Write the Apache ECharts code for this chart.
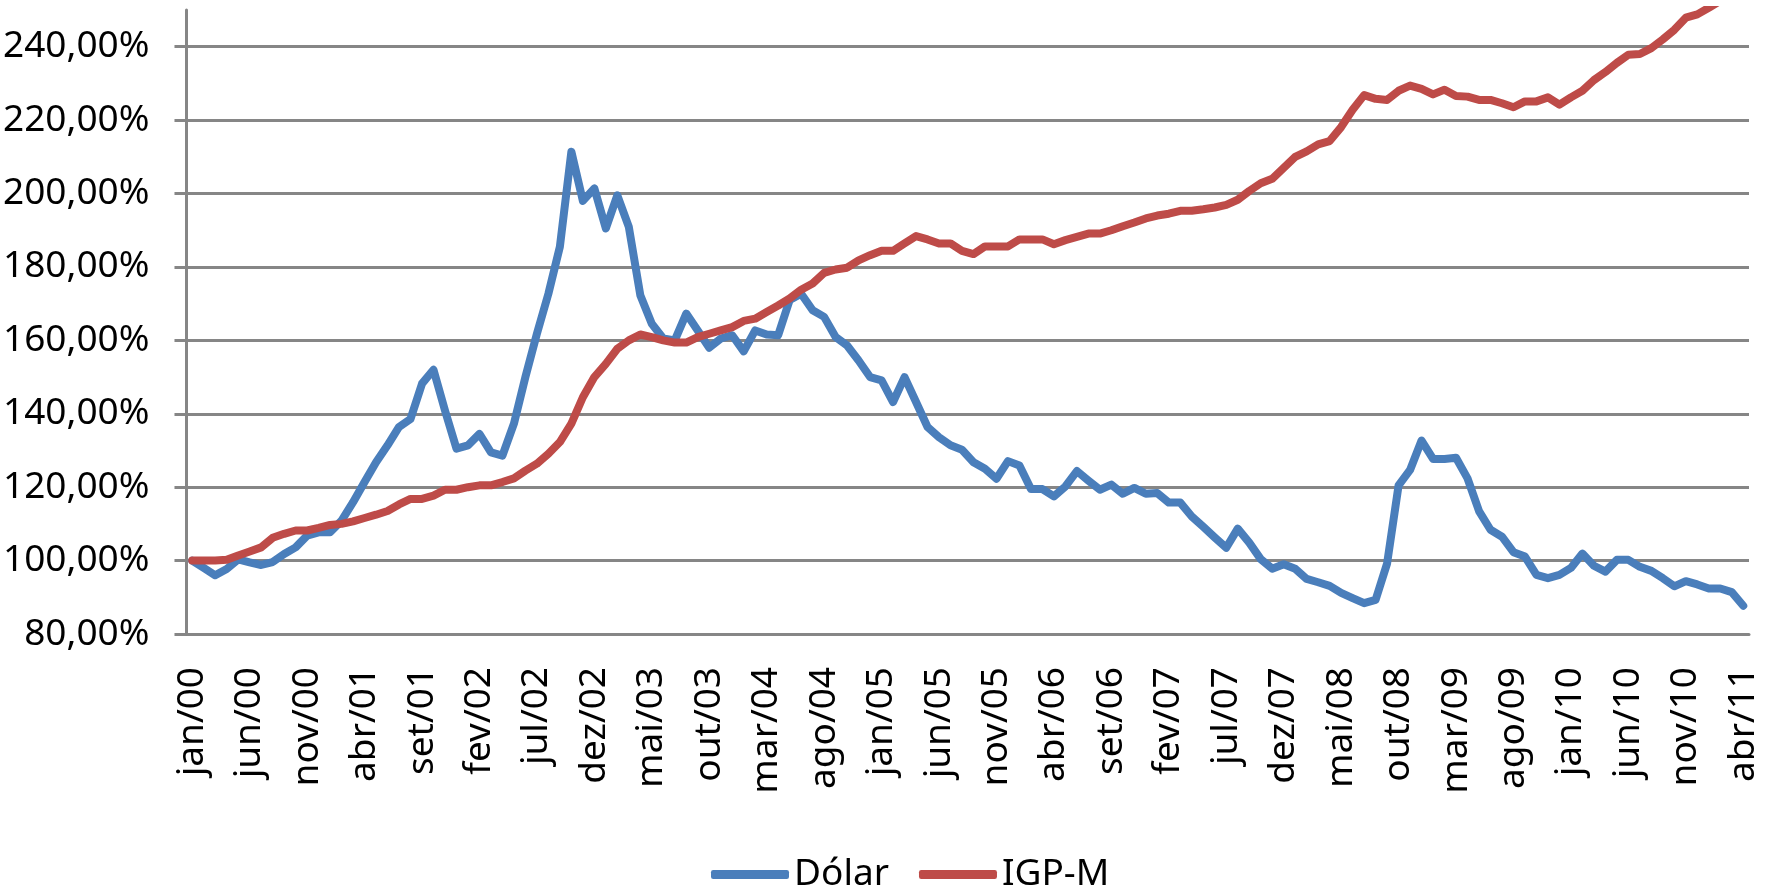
<!DOCTYPE html>
<html>
<head>
<meta charset="utf-8">
<title>Dólar x IGP-M</title>
<script src="https://cdn.jsdelivr.net/npm/echarts@6/dist/echarts.min.js"></script>
<style>
    html, body {
        margin: 0;
        padding: 0;
        background: #fff;
    }
    .mycharts {
        width: 1773px;
        height: 893px;
    }
</style>
</head>
<body>
<div class="mycharts" id="myChart"></div>
<script>
// meses e anos do eixo x (jan/00 ... abr/11)
const meses = ["jan", "fev", "mar", "abr", "mai", "jun", "jul", "ago", "set", "out", "nov", "dez"];
const anos = ["00", "01", "02", "03", "04", "05", "06", "07", "08", "09", "10", "11"];
const numMeses = 136;

// valores em %, base jan/00 = 100
const dolar = [
    100, 98, 96, 97.7, 100.3, 99.5, 98.8, 99.6, 101.8, 103.6,
    106.8, 107.7, 107.7, 110.9, 115.9, 121.4, 126.8, 131.4, 136.4, 138.6,
    148.2, 152, 140.9, 130.5, 131.4, 134.5, 129.5, 128.6, 137.3, 150,
    161.8, 172.7, 185.5, 211.4, 198, 201.4, 190.5, 199.5, 190.9, 172.3,
    164.5, 160.5, 160, 167.3, 162.7, 158, 160.5, 161.4, 157, 162.7,
    161.6, 161.4, 171, 172.7, 168.2, 166.4, 160.9, 158.6, 154.5, 150,
    149.1, 143.2, 150, 143.2, 136.4, 133.6, 131.4, 130.2, 126.8, 125,
    122.3, 127.1, 125.9, 119.5, 119.5, 117.5, 120.2, 124.4, 121.8, 119.3,
    120.7, 118.2, 119.8, 118.2, 118.4, 115.8, 115.8, 112, 109.2, 106.3,
    103.5, 108.7, 104.9, 100.4, 97.8, 99, 97.8, 95, 94.1, 93.1,
    91.2, 89.8, 88.4, 89.3, 99.2, 120.5, 124.7, 132.7, 127.7, 127.7,
    128, 122.4, 113.5, 108.4, 106.5, 102.3, 101.1, 96.1, 95.2, 96.1,
    98, 101.9, 98.6, 97, 100.2, 100.2, 98.3, 97.2, 95.2, 93,
    94.4, 93.5, 92.4, 92.4, 91.4, 87.7
];
const igpm = [
    100, 100, 100, 100.2, 101.4, 102.5, 103.6, 106.2, 107.3, 108.2,
    108.2, 108.9, 109.7, 110, 110.7, 111.6, 112.5, 113.5, 115.3, 116.8,
    116.8, 117.7, 119.3, 119.3, 120, 120.5, 120.5, 121.4, 122.4, 124.5,
    126.4, 129.1, 132.3, 137.3, 144.5, 150, 153.6, 157.7, 160, 161.6,
    160.9, 160, 159.4, 159.4, 160.9, 161.8, 162.7, 163.6, 165.3, 165.9,
    167.7, 169.5, 171.4, 173.8, 175.5, 178.4, 179.3, 179.8, 181.8, 183.2,
    184.4, 184.4, 186.4, 188.4, 187.5, 186.4, 186.4, 184.4, 183.5, 185.6,
    185.6, 185.6, 187.5, 187.5, 187.5, 186.2, 187.3, 188.2, 189.1, 189.1,
    190, 191.1, 192.1, 193.2, 194, 194.5, 195.3, 195.3, 195.7, 196.2,
    196.9, 198.3, 200.7, 202.8, 204, 207, 210, 211.5, 213.4, 214.3,
    218.1, 222.8, 226.8, 225.8, 225.5, 228, 229.4, 228.5, 227, 228.3,
    226.6, 226.4, 225.5, 225.5, 224.6, 223.5, 225.1, 225.1, 226.2, 224.2,
    226.2, 228, 230.9, 233.1, 235.6, 237.8, 238, 239.6, 242, 244.6,
    247.9, 248.8, 250.6, 252.5, 254.2, 255.8
];

const categorias = [];
for (let i = 0; i < numMeses; i++) {
    categorias.push(meses[i % 12] + "/" + anos[Math.floor(i / 12)]);
}

const fonte = "'Noto Sans', sans-serif";
const cinza = "#868686";

const chart = echarts.init(document.getElementById("myChart"));
chart.setOption({
    animation: false,
    textStyle: { fontFamily: fonte },
    grid: {
        left: 182,
        right: 24,
        top: 10,
        bottom: 259,
    },
    legend: {
        data: ["Dólar", "IGP-M"],
        top: 851,
        left: 706,
        icon: "roundRect",
        itemWidth: 78,
        itemHeight: 9,
        itemGap: 30,
        textStyle: { fontSize: 37, color: "#000", fontFamily: fonte },
    },
    xAxis: {
        type: "category",
        boundaryGap: true,
        data: categorias,
        axisLine: { lineStyle: { color: cinza, width: 3 } },
        axisTick: {
            interval: 4,
            length: 12,
            lineStyle: { color: cinza, width: 3 },
        },
        axisLabel: {
            interval: 4,
            rotate: 90,
            margin: 33,
            fontSize: 37,
            color: "#000",
            fontFamily: fonte,
        },
        splitLine: { show: false },
    },
    yAxis: {
        type: "value",
        min: 80,
        max: 250,
        interval: 20,
        axisLine: { show: true, lineStyle: { color: cinza, width: 3 } },
        axisTick: { show: true, length: 12, lineStyle: { color: cinza, width: 3 } },
        axisLabel: {
            margin: 37,
            fontSize: 37,
            color: "#000",
            fontFamily: fonte,
            showMaxLabel: false,
            formatter: function (v) {
                return v.toFixed(2).replace(".", ",") + "%";
            },
        },
        splitLine: {
            show: true,
            showMaxLine: false,
            lineStyle: { color: cinza, width: 3 },
        },
    },
    series: [
        {
            name: "Dólar",
            type: "line",
            data: dolar,
            showSymbol: false,
            symbol: "none",
            itemStyle: { color: "#4A7EBB" },
            lineStyle: { width: 8, color: "#4A7EBB", cap: "round", join: "round" },
        },
        {
            name: "IGP-M",
            type: "line",
            data: igpm,
            showSymbol: false,
            symbol: "none",
            itemStyle: { color: "#BE4B48" },
            lineStyle: { width: 8, color: "#BE4B48", cap: "round", join: "round" },
        },
    ],
});
</script>
</body>
</html>
